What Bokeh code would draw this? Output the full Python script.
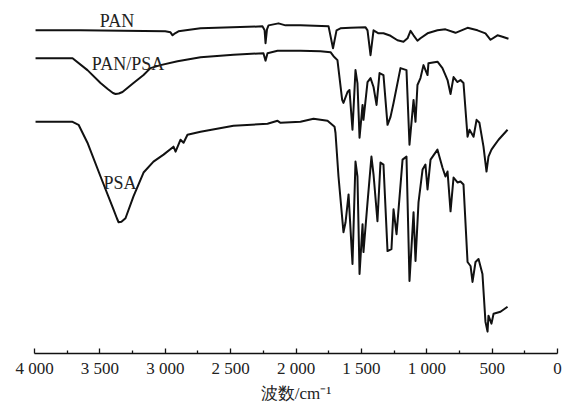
from bokeh.plotting import figure
from bokeh.models import Range1d, FixedTicker, ColumnDataSource
from bokeh.embed import file_html
from bokeh.resources import INLINE

# FTIR spectra: wavenumber (cm-1) and stacked transmittance (a.u., offset per sample)
pan_wn = [3992, 3648, 3000, 2960, 2944, 2925, 2899, 2730, 2256, 2240, 2233, 2222,
          2210, 2134, 2080, 1966, 1751, 1717, 1690, 1660, 1583, 1468, 1453, 1430,
          1407, 1369, 1331, 1277, 1224, 1178, 1147, 1124, 1101, 1071, 1048, 994,
          918, 857, 780, 688, 612, 551, 512, 459, 421, 375]
pan_t = [325, 325, 324, 323, 320, 322, 324, 327, 329, 325, 312, 326,
         330, 332, 330, 330, 329, 307, 325, 327, 327.5, 328, 325, 300,
         325, 322, 322, 319.5, 315, 313.5, 317, 324.5, 320, 314.5, 317, 322,
         325, 326, 322.5, 327.5, 325, 322, 315.5, 320, 318.5, 316.5]

blend_wn = [3992, 3709, 3595, 3495, 3440, 3400, 3380, 3355, 3327, 3243, 3166, 3113,
            3036, 2906, 2730, 2478, 2249, 2233, 2218, 2141, 1966, 1813, 1736, 1713,
            1683, 1647, 1637, 1606, 1591, 1568, 1545, 1530, 1514, 1491, 1484, 1453,
            1430, 1407, 1384, 1361, 1331, 1300, 1277, 1254, 1201, 1155, 1132, 1101,
            1086, 1071, 1048, 1025, 994, 987, 918, 880, 857, 841, 818, 795,
            765, 742, 719, 688, 673, 642, 619, 597, 566, 543, 528, 505,
            489, 451, 382]
blend_t = [297, 297, 285, 272, 266, 262, 261, 261.5, 263, 272, 280, 287,
           290, 294, 298, 300.5, 302, 294.5, 302, 304.5, 304.5, 304, 303, 299,
           295, 255, 252, 263, 265, 225, 285, 272, 217, 250, 235, 273,
           277, 268, 250, 282, 280, 230, 238, 252, 287, 285, 210, 255,
           233, 270, 277, 290, 280, 292, 293.5, 287, 280, 275, 261, 278,
           273, 275, 272, 218, 225, 218, 235, 232, 208, 183, 198, 205,
           208, 215, 225]

psa_wn = [3992, 3709, 3663, 3595, 3495, 3396, 3370, 3357, 3335, 3304, 3243, 3166,
          3090, 3013, 2937, 2921, 2883, 2860, 2830, 2730, 2478, 2218, 2141, 2118,
          1966, 1866, 1759, 1705, 1698, 1675, 1637, 1621, 1598, 1568, 1545, 1530,
          1514, 1491, 1484, 1453, 1423, 1407, 1377, 1354, 1331, 1300, 1270, 1254,
          1231, 1185, 1155, 1132, 1101, 1086, 1063, 1032, 1010, 994, 971, 918,
          880, 857, 841, 818, 795, 765, 742, 719, 688, 665, 650, 627,
          604, 574, 551, 535, 528, 505, 489, 436, 382]
psa_t = [233, 233, 230, 212, 178, 145, 136, 132, 132.5, 136, 158, 182,
         193, 200, 208, 203, 215, 212, 220, 223, 229, 231, 234, 232,
         233, 236, 234, 228, 222, 178, 122, 132, 160, 90, 193, 178,
         80, 130, 102, 152, 198, 180, 133, 192, 190, 103, 105, 145,
         120, 195, 198, 73, 142, 93, 152, 185, 190, 165, 195, 205,
         187, 178, 183, 143, 177, 172, 173, 170, 92, 88, 72, 92,
         95, 80, 32, 22, 38, 30, 40, 42, 47]

# sample names and where they sit beside their traces
names = ["PAN", "PAN/PSA", "PSA"]
name_wn = [3369, 3285, 3346]
name_t = [334, 291, 171.5]

tick_values = [4000, 3500, 3000, 2500, 2000, 1500, 1000, 500, 0]
tick_labels = ["4 000", "3 500", "3 000", "2 500", "2 000", "1 500", "1 000", "500", "0"]
minor_values = [3750, 3250, 2750, 2250, 1750, 1250, 750, 250]

SERIF = "Liberation Serif"

p = figure(width=563, height=405, output_backend="svg", toolbar_location=None,
           x_range=Range1d(4000, 0), y_range=Range1d(0, 355),
           y_axis_location=None, min_border_left=34, min_border_right=6,
           min_border_top=0, min_border_bottom=50)
p.outline_line_color = None
p.xgrid.visible = False
p.ygrid.visible = False
p.background_fill_color = "white"
p.border_fill_color = "white"

for wn, t in [(pan_wn, pan_t), (blend_wn, blend_t), (psa_wn, psa_t)]:
    p.line(wn, t, line_color="#111111", line_width=2, line_join="round")

src = ColumnDataSource(dict(x=name_wn, y=name_t, text=names))
p.text(x="x", y="y", text="text", source=src, text_align="center",
       text_baseline="middle", text_font_size="18px", text_color="#222222",
       text_font={"value": SERIF})

ax = p.xaxis[0]
ax.ticker = FixedTicker(ticks=tick_values, minor_ticks=minor_values)
ax.major_label_overrides = {v: s for v, s in zip(tick_values, tick_labels)}
ax.axis_line_color = "#111111"
ax.axis_line_width = 1.3
ax.major_tick_line_color = "#111111"
ax.minor_tick_line_color = "#111111"
ax.major_tick_line_width = 1.3
ax.minor_tick_line_width = 1.3
ax.major_tick_in = 5
ax.major_tick_out = 0
ax.minor_tick_in = 3
ax.minor_tick_out = 0
ax.major_label_standoff = 5
ax.major_label_text_font = SERIF
ax.major_label_text_font_size = "17px"
ax.major_label_text_color = "#222222"
ax.axis_label = "波数/cm⁻¹"
ax.axis_label_text_font = SERIF
ax.axis_label_text_font_style = "normal"
ax.axis_label_text_font_size = "17px"
ax.axis_label_text_color = "#222222"
ax.axis_label_standoff = 3

open("out.html", "w").write(file_html(p, INLINE))
